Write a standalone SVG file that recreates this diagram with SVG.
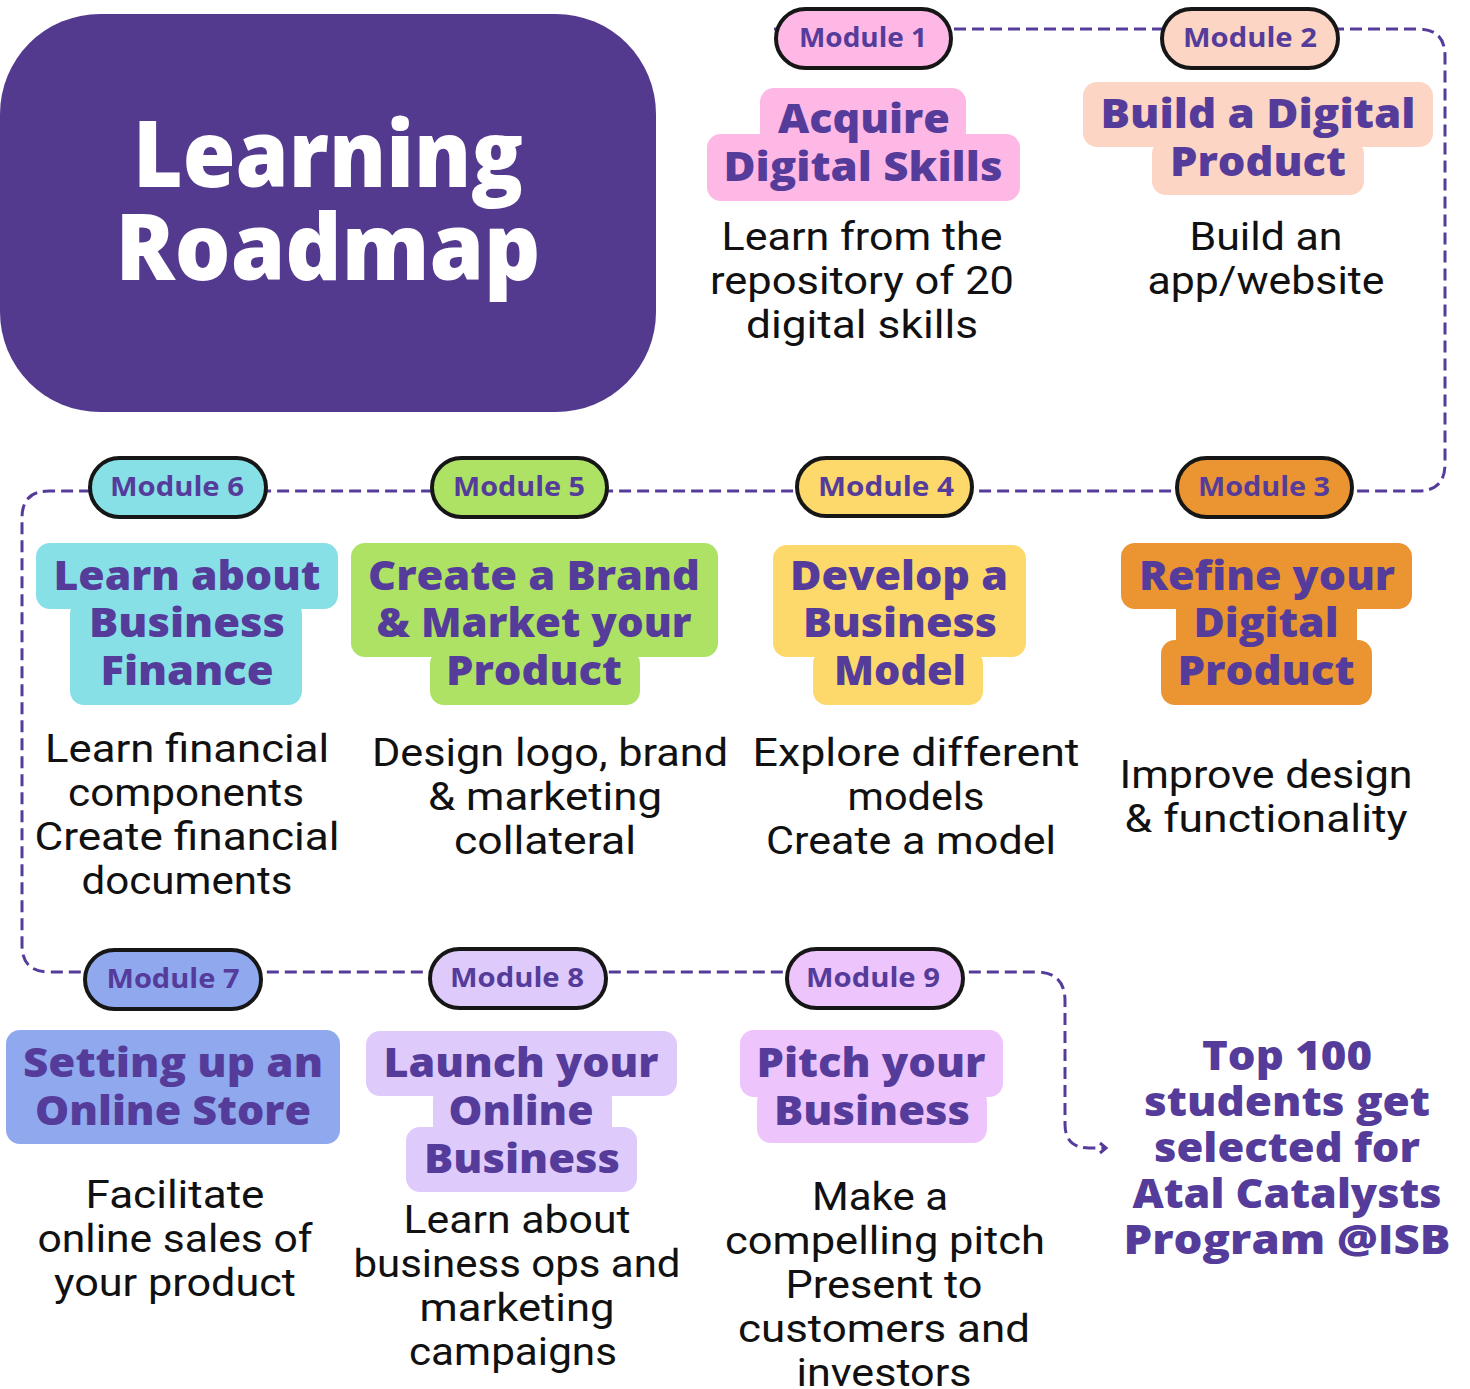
<svg xmlns="http://www.w3.org/2000/svg" width="1470" height="1389" viewBox="0 0 1470 1389">
<defs>
<style>
.title{font-family:"Open Sans","Liberation Sans",sans-serif;font-weight:800;font-size:92px;fill:#ffffff;text-anchor:middle}
.pill{stroke:#161616;stroke-width:4}
.plab{font-family:"Open Sans","Liberation Sans",sans-serif;font-weight:700;font-size:26px;fill:#553C9A;text-anchor:middle}
.head{font-family:"Open Sans","Liberation Sans",sans-serif;font-weight:800;font-size:40px;fill:#553C9A;text-anchor:middle}
.desc{font-family:Roboto,"Liberation Sans",sans-serif;font-weight:400;font-size:39px;fill:#111111;text-anchor:middle}
.conn{fill:none;stroke:#553C9A;stroke-width:3;stroke-dasharray:12 6}
</style>
<marker id="chev" markerWidth="14" markerHeight="14" refX="10" refY="7" orient="auto" markerUnits="userSpaceOnUse">
<polyline points="4,2 10,7 4,12" fill="none" stroke="#553C9A" stroke-width="3"/>
</marker>
</defs>
<rect width="1470" height="1389" fill="#ffffff"/>

<g id="connectors">
<path class="conn" d="M 774 29 H 1418 Q 1445 29 1445 56 V 464 Q 1445 491 1418 491 H 49 Q 22 491 22 518 V 945 Q 22 972 49 972 H 1036 Q 1065 972 1065 1001 V 1124 Q 1065 1148 1089 1148 H 1106" marker-end="url(#chev)"/>
</g>

<g id="title">
<rect x="0" y="14" width="656" height="398" rx="100" fill="#533A8E"/>
<text class="title" x="328" y="187" textLength="390" lengthAdjust="spacingAndGlyphs">Learning</text>
<text class="title" x="328" y="280" textLength="425" lengthAdjust="spacingAndGlyphs">Roadmap</text>
</g>

<g id="module1">
<rect class="pill" x="776" y="9" width="175" height="59" rx="29.5" fill="#FDB8E5"/>
<text class="plab" x="863" y="47" textLength="128" lengthAdjust="spacingAndGlyphs">Module 1</text>
<rect x="760" y="88" width="206" height="58" rx="14" fill="#FDB8E5"/>
<rect x="707" y="134" width="313" height="67" rx="14" fill="#FDB8E5"/>
<text class="head" x="864" y="133" textLength="172" lengthAdjust="spacingAndGlyphs">Acquire</text>
<text class="head" x="863" y="181" textLength="279" lengthAdjust="spacingAndGlyphs">Digital Skills</text>
<text class="desc" x="862" y="250" textLength="281" lengthAdjust="spacingAndGlyphs">Learn from the</text>
<text class="desc" x="862" y="294" textLength="304" lengthAdjust="spacingAndGlyphs">repository of 20</text>
<text class="desc" x="862" y="338" textLength="232" lengthAdjust="spacingAndGlyphs">digital skills</text>
</g>

<g id="module2">
<rect class="pill" x="1162" y="9" width="176" height="59" rx="29.5" fill="#FDD5C4"/>
<text class="plab" x="1250" y="47" textLength="134" lengthAdjust="spacingAndGlyphs">Module 2</text>
<rect x="1083" y="82" width="350" height="65" rx="14" fill="#FDD5C4"/>
<rect x="1152" y="140" width="212" height="55" rx="14" fill="#FDD5C4"/>
<text class="head" x="1258" y="128" textLength="315" lengthAdjust="spacingAndGlyphs">Build a Digital</text>
<text class="head" x="1258" y="176" textLength="176" lengthAdjust="spacingAndGlyphs">Product</text>
<text class="desc" x="1266" y="250" textLength="153" lengthAdjust="spacingAndGlyphs">Build an</text>
<text class="desc" x="1266" y="294" textLength="237" lengthAdjust="spacingAndGlyphs">app/website</text>
</g>

<g id="module3">
<rect class="pill" x="1177" y="458" width="175" height="59" rx="29.5" fill="#EA9531"/>
<text class="plab" x="1264" y="496" textLength="132" lengthAdjust="spacingAndGlyphs">Module 3</text>
<rect x="1121" y="543" width="291" height="66" rx="14" fill="#EA9531"/>
<rect x="1176" y="600" width="181" height="55" rx="10" fill="#EA9531"/>
<rect x="1161" y="640" width="211" height="65" rx="14" fill="#EA9531"/>
<text class="head" x="1267" y="590" textLength="256" lengthAdjust="spacingAndGlyphs">Refine your</text>
<text class="head" x="1266" y="637" textLength="145" lengthAdjust="spacingAndGlyphs">Digital</text>
<text class="head" x="1266" y="685" textLength="177" lengthAdjust="spacingAndGlyphs">Product</text>
<text class="desc" x="1266" y="788" textLength="293" lengthAdjust="spacingAndGlyphs">Improve design</text>
<text class="desc" x="1266" y="832" textLength="283" lengthAdjust="spacingAndGlyphs">&amp; functionality</text>
</g>

<g id="module4">
<rect class="pill" x="797" y="458" width="175" height="58" rx="29" fill="#FDD86B"/>
<text class="plab" x="886" y="496" textLength="136" lengthAdjust="spacingAndGlyphs">Module 4</text>
<rect x="773" y="545" width="253" height="112" rx="14" fill="#FDD86B"/>
<rect x="813" y="650" width="170" height="55" rx="14" fill="#FDD86B"/>
<text class="head" x="899" y="590" textLength="218" lengthAdjust="spacingAndGlyphs">Develop a</text>
<text class="head" x="900" y="637" textLength="194" lengthAdjust="spacingAndGlyphs">Business</text>
<text class="head" x="900" y="685" textLength="132" lengthAdjust="spacingAndGlyphs">Model</text>
<text class="desc" x="916" y="766" textLength="327" lengthAdjust="spacingAndGlyphs">Explore different</text>
<text class="desc" x="916" y="810" textLength="137" lengthAdjust="spacingAndGlyphs">models</text>
<text class="desc" x="911" y="854" textLength="290" lengthAdjust="spacingAndGlyphs">Create a model</text>
</g>

<g id="module5">
<rect class="pill" x="432" y="458" width="175" height="59" rx="29.5" fill="#ADE264"/>
<text class="plab" x="519" y="496" textLength="132" lengthAdjust="spacingAndGlyphs">Module 5</text>
<rect x="351" y="543" width="367" height="114" rx="14" fill="#ADE264"/>
<rect x="430" y="650" width="210" height="55" rx="14" fill="#ADE264"/>
<text class="head" x="534" y="590" textLength="332" lengthAdjust="spacingAndGlyphs">Create a Brand</text>
<text class="head" x="534" y="637" textLength="315" lengthAdjust="spacingAndGlyphs">&amp; Market your</text>
<text class="head" x="534" y="685" textLength="176" lengthAdjust="spacingAndGlyphs">Product</text>
<text class="desc" x="550" y="766" textLength="356" lengthAdjust="spacingAndGlyphs">Design logo, brand</text>
<text class="desc" x="545" y="810" textLength="234" lengthAdjust="spacingAndGlyphs">&amp; marketing</text>
<text class="desc" x="545" y="854" textLength="182" lengthAdjust="spacingAndGlyphs">collateral</text>
</g>

<g id="module6">
<rect class="pill" x="90" y="458" width="176" height="59" rx="29.5" fill="#87E0E6"/>
<text class="plab" x="177" y="496" textLength="134" lengthAdjust="spacingAndGlyphs">Module 6</text>
<rect x="36" y="543" width="302" height="66" rx="14" fill="#87E0E6"/>
<rect x="70" y="600" width="232" height="105" rx="14" fill="#87E0E6"/>
<text class="head" x="187" y="590" textLength="267" lengthAdjust="spacingAndGlyphs">Learn about</text>
<text class="head" x="187" y="637" textLength="196" lengthAdjust="spacingAndGlyphs">Business</text>
<text class="head" x="187" y="685" textLength="173" lengthAdjust="spacingAndGlyphs">Finance</text>
<text class="desc" x="187" y="762" textLength="284" lengthAdjust="spacingAndGlyphs">Learn financial</text>
<text class="desc" x="186" y="806" textLength="236" lengthAdjust="spacingAndGlyphs">components</text>
<text class="desc" x="187" y="850" textLength="305" lengthAdjust="spacingAndGlyphs">Create financial</text>
<text class="desc" x="187" y="894" textLength="211" lengthAdjust="spacingAndGlyphs">documents</text>
</g>

<g id="module7">
<rect class="pill" x="85" y="950" width="176" height="59" rx="29.5" fill="#8FA8EE"/>
<text class="plab" x="173" y="988" textLength="133" lengthAdjust="spacingAndGlyphs">Module 7</text>
<rect x="6" y="1030" width="334" height="114" rx="14" fill="#8FA8EE"/>
<text class="head" x="173" y="1077" textLength="300" lengthAdjust="spacingAndGlyphs">Setting up an</text>
<text class="head" x="173" y="1125" textLength="276" lengthAdjust="spacingAndGlyphs">Online Store</text>
<text class="desc" x="175" y="1208" textLength="179" lengthAdjust="spacingAndGlyphs">Facilitate</text>
<text class="desc" x="175" y="1252" textLength="275" lengthAdjust="spacingAndGlyphs">online sales of</text>
<text class="desc" x="175" y="1296" textLength="242" lengthAdjust="spacingAndGlyphs">your product</text>
</g>

<g id="module8">
<rect class="pill" x="430" y="949" width="176" height="59" rx="29.5" fill="#DECBFC"/>
<text class="plab" x="517" y="987" textLength="134" lengthAdjust="spacingAndGlyphs">Module 8</text>
<rect x="366" y="1031" width="311" height="65" rx="14" fill="#DECBFC"/>
<rect x="433" y="1088" width="179" height="48" rx="10" fill="#DECBFC"/>
<rect x="406" y="1127" width="231" height="65" rx="14" fill="#DECBFC"/>
<text class="head" x="521" y="1077" textLength="275" lengthAdjust="spacingAndGlyphs">Launch your</text>
<text class="head" x="521" y="1125" textLength="145" lengthAdjust="spacingAndGlyphs">Online</text>
<text class="head" x="522" y="1173" textLength="196" lengthAdjust="spacingAndGlyphs">Business</text>
<text class="desc" x="517" y="1233" textLength="227" lengthAdjust="spacingAndGlyphs">Learn about</text>
<text class="desc" x="517" y="1277" textLength="327" lengthAdjust="spacingAndGlyphs">business ops and</text>
<text class="desc" x="517" y="1321" textLength="195" lengthAdjust="spacingAndGlyphs">marketing</text>
<text class="desc" x="513" y="1365" textLength="208" lengthAdjust="spacingAndGlyphs">campaigns</text>
</g>

<g id="module9">
<rect class="pill" x="787" y="949" width="176" height="59" rx="29.5" fill="#EEC4FC"/>
<text class="plab" x="873" y="987" textLength="134" lengthAdjust="spacingAndGlyphs">Module 9</text>
<rect x="740" y="1030" width="263" height="67" rx="14" fill="#EEC4FC"/>
<rect x="757" y="1088" width="230" height="55" rx="14" fill="#EEC4FC"/>
<text class="head" x="871" y="1077" textLength="229" lengthAdjust="spacingAndGlyphs">Pitch your</text>
<text class="head" x="872" y="1125" textLength="196" lengthAdjust="spacingAndGlyphs">Business</text>
<text class="desc" x="880" y="1210" textLength="136" lengthAdjust="spacingAndGlyphs">Make a</text>
<text class="desc" x="885" y="1254" textLength="320" lengthAdjust="spacingAndGlyphs">compelling pitch</text>
<text class="desc" x="884" y="1298" textLength="197" lengthAdjust="spacingAndGlyphs">Present to</text>
<text class="desc" x="884" y="1342" textLength="292" lengthAdjust="spacingAndGlyphs">customers  and</text>
<text class="desc" x="884" y="1386" textLength="175" lengthAdjust="spacingAndGlyphs">investors</text>
</g>

<g id="outcome">
<text class="head" x="1287" y="1070" textLength="170" lengthAdjust="spacingAndGlyphs">Top 100</text>
<text class="head" x="1287" y="1116" textLength="286" lengthAdjust="spacingAndGlyphs">students get</text>
<text class="head" x="1287" y="1162" textLength="266" lengthAdjust="spacingAndGlyphs">selected for</text>
<text class="head" x="1287" y="1208" textLength="309" lengthAdjust="spacingAndGlyphs">Atal Catalysts</text>
<text class="head" x="1287" y="1254" textLength="327" lengthAdjust="spacingAndGlyphs">Program @ISB</text>
</g>
</svg>
